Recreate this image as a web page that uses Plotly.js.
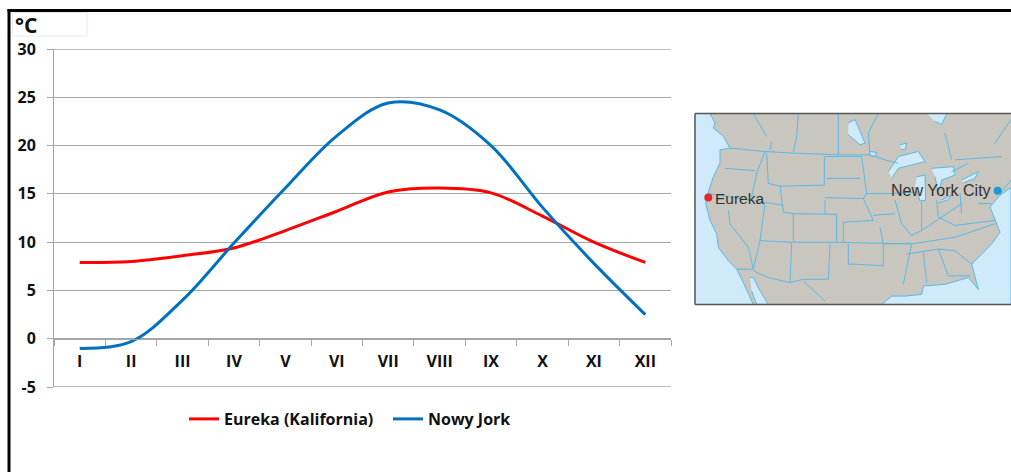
<!DOCTYPE html>
<html><head><meta charset="utf-8">
<script src="https://cdn.plot.ly/plotly-3.0.1.min.js"></script>
<style>html,body{margin:0;padding:0;background:#fff;overflow:hidden}#c{width:1011px;height:472px}</style>
</head><body><div id="c"></div>
<script>
const months=['I','II','III','IV','V','VI','VII','VIII','IX','X','XI','XII'];
const eureka=[7.9,8.0,8.6,9.4,11.2,13.2,15.2,15.6,15.1,12.7,10.0,7.9];
const newYork=[-1.0,-0.3,4.0,9.9,15.6,21.0,24.4,23.7,20.0,13.6,7.8,2.5];
const yTicks=[-5,0,5,10,15,20,25,30];
const yTickLabels=['-5','0','5','10','15','20','25','30'];

// Inset map, in map image coordinates
const pacificX=[30,75,90,85,115,135,105,105,85,70,62,75,95,100,130,155,175,195,205,30];
const pacificY=[42,42,70,85,110,145,150,190,230,275,310,360,400,440,480,505,545,590,610,610];
const atlanticX=[590,620,660,710,715,780,850,880,860,920,945,930,915,945,978,978];
const atlanticY=[610,585,585,580,555,550,530,565,490,430,395,360,320,285,262,610];
const lakes=[
 [[610,640,700,720,680,640,620],[215,170,155,185,195,205,235]],
 [[695,720,722,705,690],[230,225,300,302,260]],
 [[740,805,810,770,760,750],[205,200,225,240,280,230]],
 [[768,800,790,760],[300,285,298,308]],
 [[830,880,870,835],[240,215,235,248]],
 [[490,510,540,525,490],[70,60,130,135,105]],
 [[725,785,770,750],[42,42,75,65]],
 [[645,665,660,648],[135,130,150,148]],
 [[195,205,225,250,215,200],[530,530,570,610,610,570]],
 [[555,575,570,556],[155,158,170,168]]
];
const bordersX=[135,240,330,460,555,600,640,null,340,335,325,null,205,245,null,460,460,null,555,550,580,null,240,215,200,null,120,210,null,70,240,295,null,245,250,285,null,418,418,285,295,null,325,455,455,325,325,null,320,315,null,225,320,null,240,225,205,155,null,130,135,190,205,null,325,295,null,420,530,null,425,525,null,420,535,null,420,420,null,530,545,535,565,475,475,null,565,630,null,545,620,700,null,630,650,680,null,585,595,680,null,455,680,810,930,null,490,490,510,595,595,null,435,430,355,315,250,205,null,355,420,null,680,655,null,715,725,null,760,790,null,665,760,810,860,null,790,855,null,710,710,680,null,755,760,810,null,710,770,830,null,825,830,null,810,930,null,880,920,null,800,780,null,810,950,null,930,978,null,260,255,null,800,850,null,945,978];
const bordersY=[145,155,160,165,165,180,190,null,42,110,155,null,42,110,null,42,165,null,165,100,42,null,155,220,290,null,205,212,null,280,305,315,null,160,250,258,null,170,255,258,335,null,340,342,425,425,340,null,425,545,null,420,425,null,310,420,505,505,null,330,370,440,505,null,340,335,null,170,170,null,235,235,null,292,295,null,300,340,null,170,280,295,360,365,425,null,345,340,null,280,280,275,null,300,370,405,null,380,430,428,null,425,430,410,370,null,430,490,490,495,430,null,430,535,535,545,530,510,null,540,600,null,430,550,null,455,545,null,445,525,null,460,445,450,490,null,525,525,null,305,390,405,null,300,350,375,null,390,350,310,null,280,340,null,375,360,null,310,310,null,180,100,null,180,170,null,130,60,null,125,150,null,215,190,null,280,240];
const cityX=[70,938],cityY=[292,272],cityNames=['Eureka','New York City'];
const cityColors=['#e0282e','#1c9ad6'];

const W=1011,H=472;
const landColor='#c9c6c0',waterColor='#cfeafa',edgeColor='#5cb9e2',axisColor='#a6a6a6';
const base={xaxis:'x2',yaxis:'y2',hoverinfo:'skip',showlegend:false};
const water=(x,y)=>Object.assign({},base,{x,y,mode:'lines',fill:'toself',fillcolor:waterColor,line:{color:edgeColor,width:1}});
const traces=[
 {x:months,y:eureka,name:'Eureka (Kalifornia)',mode:'lines',line:{color:'#ff0000',width:3,shape:'spline',smoothing:1},hoverinfo:'skip'},
 {x:months,y:newYork,name:'Nowy Jork',mode:'lines',line:{color:'#0070c0',width:3,shape:'spline',smoothing:1},hoverinfo:'skip'},
 water(pacificX,pacificY),water(atlanticX,atlanticY),
 ...lakes.map(l=>water(l[0],l[1])),
 Object.assign({},base,{x:bordersX,y:bordersY,mode:'lines',connectgaps:false,line:{color:edgeColor,width:1}}),
 Object.assign({},base,{x:cityX,y:cityY,mode:'markers',marker:{color:cityColors,size:8}})
];
const boldFont={family:'"Open Sans",sans-serif',size:16,color:'#111',weight:700};
const layout={
 width:W,height:H,margin:{l:0,r:0,t:0,b:0},paper_bgcolor:'#fff',plot_bgcolor:'rgba(0,0,0,0)',
 xaxis:{type:'category',domain:[54/W,671/W],range:[-0.5,11.5],anchor:'free',position:(H-338.5)/H,
  showline:true,linecolor:axisColor,linewidth:1,ticks:'outside',ticklen:6,tickcolor:axisColor,tickson:'boundaries',
  showgrid:false,zeroline:false,tickfont:boldFont,ticklabelstandoff:8,fixedrange:true},
 yaxis:{domain:[1-387/H,1-49/H],range:[-5,30],tickmode:'array',tickvals:yTicks,ticktext:yTickLabels,ticks:'outside',ticklen:6,tickcolor:axisColor,
  showline:true,linecolor:axisColor,gridcolor:axisColor,gridwidth:1,zeroline:false,tickfont:boldFont,ticklabelstandoff:8,fixedrange:true},
 xaxis2:{domain:[695/W,1],range:[30,978],anchor:'y2',visible:false,fixedrange:true},
 yaxis2:{domain:[1-304.5/H,1-113.5/H],range:[610,42],anchor:'x2',visible:false,fixedrange:true},
 legend:{orientation:'h',x:184/W,y:1-419/H,xanchor:'left',yanchor:'middle',font:boldFont,bgcolor:'rgba(0,0,0,0)',itemwidth:30,traceorder:'normal',entrywidthmode:'pixels',entrywidth:159},
 shapes:[
  {type:'line',layer:'below',xref:'paper',yref:'y',x0:54/W,x1:671/W,y0:30,y1:30,line:{color:axisColor,width:1.5}},
  {type:'line',layer:'below',xref:'paper',yref:'y',x0:54/W,x1:671/W,y0:-5,y1:-5,line:{color:axisColor,width:1.5}},
  {type:'rect',layer:'below',xref:'x2',yref:'y2',x0:30,x1:978,y0:42,y1:610,fillcolor:landColor,line:{width:0}},
  {type:'line',xref:'paper',yref:'paper',x0:695/W,x1:695/W,y0:1-304.5/H,y1:1-113.5/H,line:{color:'#555',width:1.5}},
  {type:'line',xref:'paper',yref:'paper',x0:695/W,x1:1,y0:1-113.5/H,y1:1-113.5/H,line:{color:'#555',width:1.5}},
  {type:'line',xref:'paper',yref:'paper',x0:695/W,x1:1,y0:1-304.5/H,y1:1-304.5/H,line:{color:'#555',width:1.5}},
  {type:'rect',xref:'paper',yref:'paper',x0:12.5/W,x1:87/W,y0:1-36/H,y1:1-12.5/H,fillcolor:'#fff',line:{color:'#e6ebf4',width:1}},
  {type:'line',xref:'paper',yref:'paper',x0:9/W,x1:9/W,y0:0,y1:1-9/H,line:{color:'#000',width:3}},
  {type:'line',xref:'paper',yref:'paper',x0:7.5/W,x1:1,y0:1-10.5/H,y1:1-10.5/H,line:{color:'#000',width:3}}
 ],
 annotations:[
  {xref:'paper',yref:'paper',x:13/W,y:1-25/H,xanchor:'left',yanchor:'middle',text:'°C',showarrow:false,font:{family:'"Open Sans",sans-serif',size:21,color:'#111',weight:700}},
  {xref:'x2',yref:'y2',x:84,y:296,xanchor:'left',yanchor:'middle',text:cityNames[0],showarrow:false,font:{family:'Liberation Sans',size:15.5,color:'#333'}},
  {xref:'x2',yref:'y2',x:925,y:272,xanchor:'right',yanchor:'middle',text:cityNames[1],showarrow:false,font:{family:'Liberation Sans',size:16,color:'#333'}}
 ]
};
Plotly.newPlot('c',traces,layout,{displayModeBar:false,staticPlot:true});
</script></body></html>
